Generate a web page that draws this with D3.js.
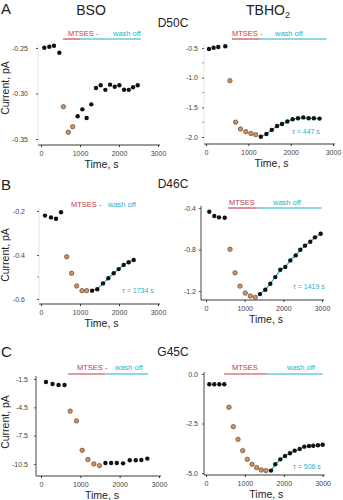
<!DOCTYPE html>
<html>
<head>
<meta charset="utf-8">
<script src="https://cdn.jsdelivr.net/npm/d3@7"></script>
<style>
  body { margin: 0; background: #fff; }
  text { font-family: "Liberation Sans Narrow", "Liberation Sans", Arial, sans-serif; }
  .big { font-family: "Liberation Sans", Arial, sans-serif; }
</style>
</head>
<body>
<script>
const width = 343;
const height = 500;

const timeTicks = [0, 1000, 2000, 3000];

// BSO, D50C  [time s, current pA]
const bsoD50cPre = [[85, -0.2497], [213, -0.2486], [333, -0.2475], [470, -0.2552]];
const bsoD50cMtses = [[573, -0.3145], [700, -0.3426], [812, -0.3365]];
const bsoD50cWash = [[940, -0.325], [1060, -0.3174], [1170, -0.3269], [1290, -0.3119], [1410, -0.294],
  [1530, -0.291], [1650, -0.296], [1770, -0.2903], [1890, -0.2925], [2010, -0.291], [2130, -0.2958],
  [2250, -0.296], [2360, -0.2932], [2480, -0.291]];
const bsoD50cTicks = [-0.25, -0.30, -0.35];
const bsoD50cBar = [564, 1000, 2564];

// TBHO2, D50C
const tbhD50cPre = [[70, -0.517], [180, -0.495], [290, -0.483], [455, -0.47]];
const tbhD50cMtses = [[565, -1.05], [700, -1.75], [815, -1.866], [940, -1.91], [1060, -1.94], [1175, -1.96]];
const tbhD50cWash = [[1295, -1.995], [1427, -1.95], [1553, -1.88], [1678, -1.815], [1795, -1.78], [1922, -1.74],
  [2047, -1.70], [2172, -1.685], [2298, -1.67], [2424, -1.685], [2548, -1.685], [2682, -1.69]];
const tbhD50cTicks = [-0.5, -1.0, -1.5, -2.0];
const tbhD50cMinor = [-0.75, -1.25, -1.75];
const tbhD50cBar = [612, 1270, 2847];
const tbhD50cTau = 447;

// BSO, D46C
const bsoD46cPre = [[103, -0.221], [256, -0.229], [385, -0.235], [513, -0.206]];
const bsoD46cMtses = [[658, -0.408], [786, -0.483], [915, -0.541], [1051, -0.562], [1170, -0.562]];
const bsoD46cWash = [[1310, -0.562], [1443, -0.556], [1590, -0.529], [1726, -0.506], [1864, -0.483],
  [1992, -0.464], [2120, -0.445], [2249, -0.433], [2377, -0.423]];
const bsoD46cTicks = [-0.2, -0.4, -0.6];
const bsoD46cMinor = [-0.5];
const bsoD46cTau = 1734;

// TBHO2, D46C
const tbhD46cPre = [[85, -0.436], [215, -0.477], [336, -0.49], [484, -0.494]];
const tbhD46cMtses = [[621, -0.798], [750, -1.025], [879, -1.153], [1016, -1.22], [1146, -1.248], [1275, -1.261]];
const tbhD46cWash = [[1396, -1.23], [1534, -1.188], [1663, -1.13], [1792, -1.066], [1921, -0.995], [2051, -0.969],
  [2180, -0.905], [2320, -0.857], [2439, -0.802], [2560, -0.763], [2697, -0.725], [2818, -0.683], [2966, -0.648]];
const tbhD46cTicks = [-0.4, -0.8, -1.2];
const tbhD46cBar = [569, 1319, 2992];
const tbhD46cTau = 1419;

// BSO, G45C
const bsoG45cPre = [[127, -1.82], [294, -2.03], [446, -2.14], [599, -2.14]];
const bsoG45cMtses = [[743, -4.9], [903, -5.93], [1047, -9.05], [1192, -10.03], [1344, -10.49], [1486, -10.67]];
const bsoG45cWash = [[1638, -10.39], [1783, -10.39], [1927, -10.39], [2087, -10.43], [2257, -10.11],
  [2409, -10.11], [2551, -10.07], [2703, -9.93]];
const bsoG45cTicks = [-1.5, -4.5, -7.5, -10.5];
const bsoG45cBar = [692, 1631, 2721];

// TBHO2, G45C
const tbhG45cPre = [[85, -0.52], [213, -0.52], [342, -0.52], [470, -0.52]];
const tbhG45cMtses = [[591, -1.68], [702, -2.66], [823, -3.3], [943, -3.87], [1062, -4.31], [1183, -4.56],
  [1303, -4.73], [1422, -4.85], [1542, -4.88]];
const tbhG45cWash = [[1671, -4.88], [1781, -4.56], [1910, -4.31], [2031, -4.14], [2159, -4.0], [2280, -3.87],
  [2409, -3.79], [2527, -3.67], [2648, -3.64], [2758, -3.62], [2879, -3.6], [3000, -3.57]];
const tbhG45cTicks = [0, -2.5, -5.0];
const tbhG45cBar = [463, 1568, 3000];
const tbhG45cTau = 506;

const red = '#c4384a';
const cyan = '#1fb0d2';

const svg = d3.select('body')
  .append('svg')
  .attr('width', width)
  .attr('height', height);

const drawPanel = (p) => {
  const g = svg.append('g');
  const x = d3.scaleLinear().domain([0, 3000]).range(p.xr);
  const y = d3.scaleLinear().domain(p.yd).range(p.yr);

  // x axis
  g.append('line')
    .attr('x1', p.axisX).attr('x2', p.xr[1] + 2)
    .attr('y1', p.axisY).attr('y2', p.axisY)
    .attr('stroke', '#222').attr('stroke-width', 0.9);
  const xa = g.append('g')
    .attr('transform', `translate(0,${p.axisY})`)
    .call(d3.axisBottom(x).tickValues(timeTicks).tickSize(2).tickPadding(4).tickFormat(d => d));
  xa.select('.domain').remove();
  xa.selectAll('text').attr('font-size', 7).attr('fill', '#444');
  xa.selectAll('line').attr('stroke', '#333');

  // y axis
  g.append('line')
    .attr('x1', p.axisX).attr('x2', p.axisX)
    .attr('y1', p.yTop).attr('y2', p.axisY)
    .attr('stroke', p.yLine).attr('stroke-width', 0.9);
  const ya = g.append('g')
    .attr('transform', `translate(${p.axisX},0)`)
    .call(d3.axisLeft(y).tickValues(p.ticks).tickSize(2).tickPadding(p.pad)
      .tickFormat(d => d.toFixed(p.digits)));
  ya.select('.domain').remove();
  ya.selectAll('text').attr('font-size', 7).attr('fill', '#444');
  ya.selectAll('line').attr('stroke', '#555');
  if (p.minor) {
    g.selectAll('.minor')
      .data(p.minor)
      .join('line')
        .attr('x1', p.axisX - 1.5).attr('x2', p.axisX)
        .attr('y1', d => y(d)).attr('y2', d => y(d))
        .attr('stroke', '#777');
  }

  g.append('text')
    .attr('x', (p.xr[0] + p.xr[1]) / 2 + 2)
    .attr('y', p.axisY + 23)
    .attr('text-anchor', 'middle')
    .attr('font-size', 10.5)
    .attr('fill', '#222')
    .text('Time, s');

  if (p.ylabel) {
    g.append('text')
      .attr('class', 'big')
      .attr('transform', `translate(9,${p.ylabel}) rotate(-90)`)
      .attr('text-anchor', 'middle')
      .attr('font-size', 10.5)
      .attr('fill', '#222')
      .text('Current, pA');
  }

  // application bar
  if (p.bar) {
    g.append('line')
      .attr('x1', x(p.bar[0])).attr('x2', x(p.bar[1]))
      .attr('y1', p.barY).attr('y2', p.barY)
      .attr('stroke', red).attr('stroke-width', 1.1);
    g.append('line')
      .attr('x1', x(p.bar[1])).attr('x2', x(p.bar[2]))
      .attr('y1', p.barY).attr('y2', p.barY)
      .attr('stroke', cyan).attr('stroke-width', 1.1);
  }
  g.append('text')
    .attr('x', p.labelX[0]).attr('y', p.labelY)
    .attr('font-size', 7.5).attr('fill', red)
    .text(p.mtsesText);
  g.append('text')
    .attr('x', p.labelX[1]).attr('y', p.labelY)
    .attr('font-size', 7.5).attr('fill', cyan)
    .text('wash off');

  // exponential fit over the wash-off points
  if (p.tau) {
    g.append('path')
      .datum(p.wash)
      .attr('fill', 'none')
      .attr('stroke', cyan)
      .attr('stroke-width', 1.2)
      .attr('d', d3.line().x(d => x(d[0])).y(d => y(d[1])).curve(d3.curveBasis));
    g.append('text')
      .attr('x', p.tauPos[0]).attr('y', p.tauPos[1])
      .attr('font-size', 7).attr('fill', cyan)
      .text(`τ = ${p.tau} s`);
  }

  g.append('g')
    .selectAll('circle')
    .data(p.pre.concat(p.wash))
    .join('circle')
      .attr('cx', d => x(d[0]))
      .attr('cy', d => y(d[1]))
      .attr('r', 2.2)
      .attr('fill', '#111');

  g.append('g')
    .selectAll('circle')
    .data(p.mtses)
    .join('circle')
      .attr('cx', d => x(d[0]))
      .attr('cy', d => y(d[1]))
      .attr('r', 2.2)
      .attr('fill', '#d5925c')
      .attr('stroke', '#5a4332')
      .attr('stroke-width', 0.7);
};

// headings
const heading = (t, xx, yy, size, anchor) =>
  svg.append('text').attr('class', 'big')
    .attr('x', xx).attr('y', yy)
    .attr('font-size', size)
    .attr('text-anchor', anchor)
    .attr('fill', '#222')
    .text(t);

heading('A', 1, 14, 15, 'start');
heading('B', 1, 190, 15, 'start');
heading('C', 1, 357, 15, 'start');
heading('BSO', 91, 15, 14, 'middle');
const tb = heading('TBHO', 268, 15, 14, 'middle');
tb.append('tspan').attr('font-size', 9).attr('dy', 3).text('2');
heading('D50C', 173, 27, 12, 'middle');
heading('D46C', 173, 188, 12, 'middle');
heading('G45C', 173, 356, 12, 'middle');

drawPanel({
  pre: bsoD50cPre, mtses: bsoD50cMtses, wash: bsoD50cWash,
  ticks: bsoD50cTicks, digits: 2, bar: bsoD50cBar,
  xr: [41, 158], yd: [-0.25, -0.35], yr: [48, 139],
  axisX: 38, axisY: 145, yTop: 44, yLine: '#e4e4e4', pad: 8,
  barY: 39, labelY: 36, labelX: [68, 113], mtsesText: 'MTSES -', ylabel: 88
});

drawPanel({
  pre: tbhD50cPre, mtses: tbhD50cMtses, wash: tbhD50cWash,
  ticks: tbhD50cTicks, minor: tbhD50cMinor, digits: 1, bar: tbhD50cBar, tau: tbhD50cTau,
  xr: [206, 333], yd: [-0.5, -2.0], yr: [48, 137],
  axisX: 204, axisY: 144, yTop: 44, yLine: '#e4e4e4', pad: 4,
  barY: 39, labelY: 35.5, labelX: [232, 275], mtsesText: 'MTSES -', tauPos: [292, 134]
});

drawPanel({
  pre: bsoD46cPre, mtses: bsoD46cMtses, wash: bsoD46cWash,
  ticks: bsoD46cTicks, minor: bsoD46cMinor, digits: 1, tau: bsoD46cTau,
  xr: [41, 158], yd: [-0.2, -0.6], yr: [211, 299],
  axisX: 39, axisY: 304, yTop: 207, yLine: '#e4e4e4', pad: 12,
  labelY: 207, labelX: [71, 108], mtsesText: 'MTSES -', tauPos: [122, 293], ylabel: 255
});

drawPanel({
  pre: tbhD46cPre, mtses: tbhD46cMtses, wash: tbhD46cWash,
  ticks: tbhD46cTicks, digits: 1, bar: tbhD46cBar, tau: tbhD46cTau,
  xr: [206, 322], yd: [-0.4, -1.2], yr: [208, 291],
  axisX: 201, axisY: 300, yTop: 206, yLine: '#333', pad: 3,
  barY: 208, labelY: 205, labelX: [229, 273], mtsesText: 'MTSES', tauPos: [293, 289]
});

drawPanel({
  pre: bsoG45cPre, mtses: bsoG45cMtses, wash: bsoG45cWash,
  ticks: bsoG45cTicks, digits: 1, bar: bsoG45cBar,
  xr: [41, 159], yd: [-1.5, -10.5], yr: [379, 464],
  axisX: 36, axisY: 476, yTop: 376, yLine: '#333', pad: 6,
  barY: 374, labelY: 370, labelX: [77, 115], mtsesText: 'MTSES -', ylabel: 422
});

drawPanel({
  pre: tbhG45cPre, mtses: tbhG45cMtses, wash: tbhG45cWash,
  ticks: tbhG45cTicks, digits: 1, bar: tbhG45cBar, tau: tbhG45cTau,
  xr: [206, 322.7], yd: [0, -5], yr: [374, 473],
  axisX: 204, axisY: 475, yTop: 372, yLine: '#333', pad: 4,
  barY: 374, labelY: 370, labelX: [232, 287], mtsesText: 'MTSES', tauPos: [293, 469]
});
</script>
</body>
</html>
